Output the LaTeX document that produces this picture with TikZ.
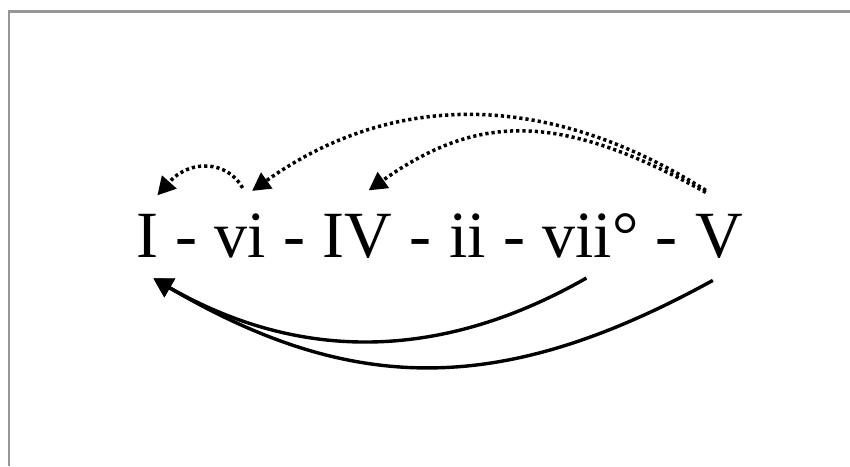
\documentclass[tikz,border=0pt]{standalone}
\usepackage{fontspec}
\setmainfont{Liberation Serif}
\usepackage{tikz}
\usetikzlibrary{arrows.meta,positioning}
\definecolor{framegray}{RGB}{150,150,150}
\tikzset{
  chord/.style={inner xsep=0pt, inner ysep=10pt, font=\fontsize{33}{40}\selectfont},
  joiner/.style={inner sep=0pt, font=\fontsize{33}{40}\selectfont},
  dotflow/.style={-{Triangle[length=9pt,width=9.5pt]}, line width=1.75pt,
    dash pattern=on 1.6pt off 1.5pt},
  solidflow/.style={-{Triangle[length=9.5pt,width=10.5pt]}, line width=1.7pt},
  frameline/.style={draw=framegray, line width=1.3pt}
}

\begin{document}
\begin{tikzpicture}[x=0.5pt, y=-0.5pt, node distance=8.25pt]
\useasboundingbox (0,0) rectangle (850,466);
\draw[frameline] (9,466) -- (9,11.5) -- (850,11.5);

% the progression
\node[chord, anchor=base west] (I) at (136,257) {I};
\node[joiner, base right=of I] (h1) {-};
\node[chord, base right=of h1] (vi) {vi};
\node[joiner, base right=of vi] (h2) {-};
\node[chord, base right=of h2] (IV) {IV};
\node[joiner, base right=of IV] (h3) {-};
\node[chord, base right=of h3] (ii) {ii};
\node[joiner, base right=of ii] (h4) {-};
\node[chord, base right=of h4] (vii) {vii°};
\node[joiner, base right=of vii] (h5) {-};
\node[chord, base right=of h5] (V) {V};

% dotted arrows above
\draw[dotflow] ([shift={(2,-5)}]vi.north) .. controls +(-15,-27) and +(33,-37) .. ([shift={(10,2)}]I.north);
\draw[dotflow] ([shift={(-13,-3)}]V.north) .. controls +(-158,-100) and +(140,-100) .. ([shift={(11.5,-2)}]vi.north);
\draw[dotflow] ([shift={(-13,-1)}]V.north) .. controls +(-145,-80) and +(110,-78) .. ([shift={(11,-3)}]IV.north);

% solid arrows below
\draw[solidflow] ([shift={(-4,0)}]vii.south) .. controls +(-147,84) and +(145,83) .. ([shift={(6,1)}]I.south);
\draw[solidflow] ([shift={(-6,2)}]V.south) .. controls +(-211,116) and +(200,117) .. ([shift={(6,1)}]I.south);
\end{tikzpicture}
\end{document}
